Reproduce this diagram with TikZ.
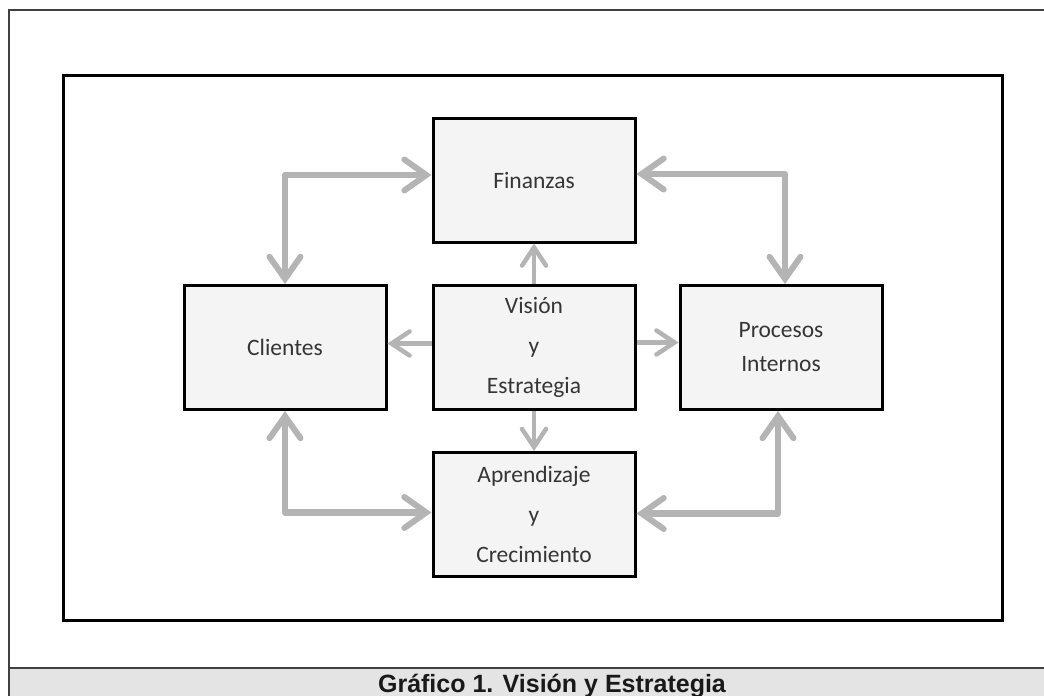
\documentclass[tikz,border=0pt]{standalone}
\usepackage{fontspec}
\setmainfont{Carlito}
\newfontfamily\capfont{Liberation Sans}
\usetikzlibrary{arrows.meta,calc}
\definecolor{arrowgray}{HTML}{B4B4B4}
\definecolor{boxfill}{HTML}{F4F4F4}
\definecolor{txtgray}{HTML}{353535}
\definecolor{bandgray}{HTML}{E4E4E4}
\begin{document}
\begin{tikzpicture}[x=1pt,y=-1pt,
  boxnode/.style={draw=black,line width=3pt,fill=boxfill,minimum width=202pt,minimum height=124pt,
    inner sep=0pt,align=center,text=txtgray,font=\fontsize{23.5}{40}\selectfont},
  bigarrow/.style={draw=arrowgray,line width=6.5pt,line join=round,line cap=round,
    {Straight Barb[length=22pt,width=31pt,line width=6pt,line cap=round]}-{Straight Barb[length=22pt,width=31pt,line width=6pt,line cap=round]}},
  smallarrow/.style={draw=arrowgray,line width=4.5pt,
    -{Straight Barb[length=18pt,width=24pt,line width=4.5pt,line cap=round]}}
]
\useasboundingbox (0,0) rectangle (1044,696);
% caption band
\fill[bandgray] (9,668) rectangle (1044,696);
\draw[line width=1.5pt,draw=black!75] (1044,668) -- (9,668);
% outer frame
\draw[line width=1.5pt,draw=black!75] (9,696) -- (9,10) -- (1044,10);
% inner frame
\draw[line width=3pt] (63,75) rectangle (1002,620);
% boxes
\node[boxnode] (fin) at (534,180) {Finanzas};
\node[boxnode] (vis) at (534,347.5) {\raisebox{-3pt}{\parbox{200pt}{\centering Visión\\y\\Estrategia}}};
\node[boxnode] (cli) at (285,347.5) {Clientes};
\node[boxnode,font=\fontsize{23.5}{34}\selectfont] (pro) at (781,347.5) {Procesos\\Internos};
\node[boxnode] (apr) at (534,514.5) {Aprendizaje\\y\\Crecimiento};
% connectors
\draw[bigarrow] (cli.north) |- ([yshift=5pt]fin.west);
\draw[bigarrow] ([yshift=6pt]fin.east) -| ([xshift=4pt]pro.north);
\draw[bigarrow] (cli.south) |- ([yshift=2pt]apr.west);
\draw[bigarrow] ([xshift=-3pt]pro.south) |- ([yshift=1pt]apr.east);
\draw[smallarrow] (vis.north) -- (fin.south);
\draw[smallarrow] ([yshift=4pt]vis.west) -- ([yshift=4pt]cli.east);
\draw[smallarrow] ([yshift=5pt]vis.east) -- ([yshift=5pt]pro.west);
\draw[smallarrow] (vis.south) -- (apr.north);
% caption
\node[anchor=base,inner sep=0pt,text=black!90,font=\capfont\bfseries\fontsize{25}{30}\selectfont] (cap) at (552,692) {Gráfico 1. Visión y Estrategia};
\end{tikzpicture}
\end{document}
